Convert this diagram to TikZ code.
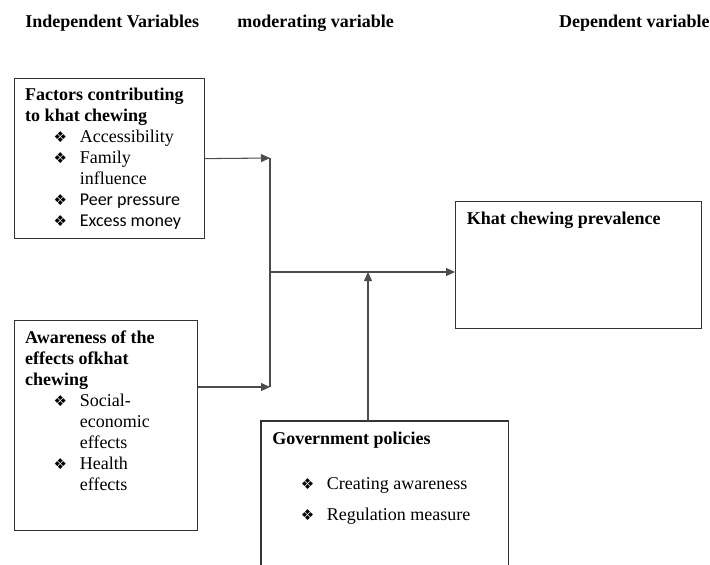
\documentclass[tikz,border=0pt]{standalone}
\usepackage{fontspec}
\setmainfont{Liberation Serif}
\newfontfamily\calibrifont{Carlito}
\newfontfamily\dingfont{DejaVu Sans}
\usetikzlibrary{positioning,arrows.meta}

\newcommand{\dingbul}{{\dingfont\fontsize{10}{10}\selectfont ❖}}
\newcommand{\bul}{\hspace*{19pt}\makebox[17.4pt][l]{\dingbul}}
\newcommand{\cont}{\hspace*{36.4pt}}

\tikzset{
  frame/.style={draw=black!80, line width=0.8pt, inner sep=0pt, anchor=north west},
  boxtext/.style={inner sep=0pt, align=left, font=\rmfamily\fontsize{12}{14}\selectfont},
  heading/.style={inner sep=0pt, anchor=base west, font=\rmfamily\fontsize{12}{14}\selectfont\bfseries},
  wire/.style={draw=black!70, line width=0.7pt},
  link/.style={wire, -{Triangle[length=6pt,width=5.3pt]}}
}

\begin{document}
\begin{tikzpicture}[x=0.6667pt, y=-0.6667pt]
            \useasboundingbox (0,0) rectangle (710,564);
            % titles of the three columns
            \node[heading] (Indep) at (25,27) {Independent Variables};
            \node[heading] (Moder) at (237,27) {moderating variable};
            \node[heading, anchor=base east] (Dep) at (710,27) {Dependent variable};
            % boxes
            \node[frame, minimum width=126.7pt, minimum height=106.7pt] (Factors) at (14,78) {};
            \node[frame, minimum width=122pt, minimum height=140pt] (Aware) at (14,320) {};
            \node[frame, minimum width=164pt, minimum height=84.7pt] (Khat) at (455,201) {};
            \node[frame, draw=none, minimum width=164pt, minimum height=95.3pt] (Gov) at (261,421) {};
            \draw[black!80, line width=0.8pt] (Gov.south west) -- (Gov.north west) -- (Gov.north east) -- (Gov.south east);
            % box contents
            \node[boxtext, below right=6.4pt and 7.3pt of Factors.north west] (FactorsText) {\textbf{Factors contributing}\\ \textbf{to khat chewing}\\ \bul Accessibility\\ \bul Family\\ \cont influence\\ \bul {\calibrifont Peer pressure}\\ \bul {\calibrifont Excess money}};
            \node[boxtext, below right=7.3pt and 7.3pt of Aware.north west] (AwareText) {\textbf{Awareness of the}\\ \textbf{effects ofkhat}\\ \textbf{chewing}\\ \bul Social-\\ \cont economic\\ \cont effects\\ \bul Health\\ \cont effects};
            \node[boxtext, below right=7.3pt and 7.7pt of Khat.north west] (KhatText) {\textbf{Khat chewing prevalence}};
            \node[boxtext, below right=7pt and 7.3pt of Gov.north west] (GovText) {\textbf{Government policies}\\[16pt] \bul Creating awareness\\[6.7pt] \bul Regulation measure};
            % connectors
            \coordinate (JTop) at (270,158);
            \coordinate (JBot) at (270,387);
            \coordinate (JMid) at (270,272);
            \coordinate (GovIn) at (368,421);
            \draw[link] (Factors.east) -- (JTop);
            \draw[link] (Aware.east |- JBot) -- (JBot);
            \draw[wire] (JTop) -- (JBot);
            \draw[link] (JMid) -- (Khat.west |- JMid);
            \draw[link] (GovIn) -- (GovIn |- JMid);
        \end{tikzpicture}
\end{document}
